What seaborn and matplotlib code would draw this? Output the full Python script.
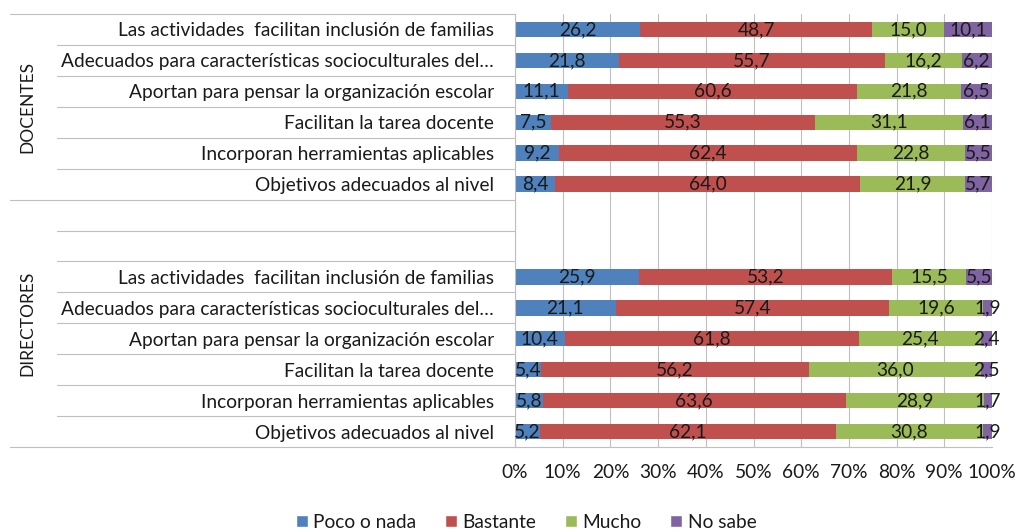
import seaborn as sns
import matplotlib.pyplot as plt
from matplotlib.patches import Patch
import numpy as np
import pandas as pd

# Data (rows listed top to bottom, blanks are the empty spacer rows)
items = [
    'Las actividades  facilitan inclusión de familias',
    'Adecuados para características socioculturales del…',
    'Aportan para pensar la organización escolar',
    'Facilitan la tarea docente',
    'Incorporan herramientas aplicables',
    'Objetivos adecuados al nivel',
]
row_labels = items + ['', ''] + items
groups = ['DOCENTES', 'DIRECTORES']
series = ['Poco o nada', 'Bastante', 'Mucho', 'No sabe']

poco = [26.2, 21.8, 11.1, 7.5, 9.2, 8.4, 0, 0, 25.9, 21.1, 10.4, 5.4, 5.8, 5.2]
bastante = [48.7, 55.7, 60.6, 55.3, 62.4, 64.0, 0, 0, 53.2, 57.4, 61.8, 56.2, 63.6, 62.1]
mucho = [15.0, 16.2, 21.8, 31.1, 22.8, 21.9, 0, 0, 15.5, 19.6, 25.4, 36.0, 28.9, 30.8]
no_sabe = [10.1, 6.2, 6.5, 6.1, 5.5, 5.7, 0, 0, 5.5, 1.9, 2.4, 2.5, 1.7, 1.9]

colors = ['#4F81BD', '#C0504D', '#9BBB59', '#8064A2']
TEXT = '#1a1a1a'
GRID = '#BFBFBF'
FS = 13.8

sns.set_style('white')
plt.rcParams['font.family'] = ['Lato', 'DejaVu Sans']

keys = [f'r{i}' for i in range(len(row_labels))]
vals = np.array([poco, bastante, mucho, no_sabe])
cum = vals.cumsum(axis=0)
df = pd.DataFrame({'key': keys})
for i, s in enumerate(series):
    df[s] = cum[i]

fig = plt.figure(figsize=(10.16, 5.32), dpi=100)
ax = fig.add_axes([515 / 1016, 1 - 447 / 532, 477 / 1016, 433 / 532])

# Stacked bars: draw cumulative totals from the widest down
for i in range(len(series) - 1, -1, -1):
    sns.barplot(data=df, x=series[i], y='key', order=keys, orient='h', color=colors[i],
                saturation=1, width=0.5, ax=ax, zorder=2, linewidth=0)

# Value labels centred in each segment
for r in range(len(keys)):
    for i in range(len(series)):
        v = vals[i, r]
        if v > 0:
            ax.text(cum[i, r] - v / 2, r, f'{v:.1f}'.replace('.', ','), ha='center', va='center',
                    fontsize=FS, color=TEXT, zorder=3)

ax.set_xlim(0, 100)
ax.set_ylim(13.5, -0.5)
ax.set_xticks(np.arange(0, 101, 10))
ax.set_xticklabels([f'{t}%' for t in range(0, 101, 10)])
ax.set_yticks(range(len(keys)))
ax.set_yticklabels(row_labels)
ax.set_xlabel('')
ax.set_ylabel('')
ax.tick_params(axis='y', length=0, pad=15, labelsize=FS, labelcolor=TEXT)
ax.tick_params(axis='x', length=4, width=0.8, color=GRID, pad=8, labelsize=FS, labelcolor=TEXT)
ax.xaxis.grid(True, color=GRID, linewidth=0.8, zorder=0)
ax.set_axisbelow(True)
for side in ('top', 'right'):
    ax.spines[side].set_visible(False)
for side in ('left', 'bottom'):
    ax.spines[side].set_color(GRID)
    ax.spines[side].set_linewidth(0.8)

# Category separators in the label area
trans = ax.get_yaxis_transform()
for b in np.arange(-0.5, 14, 1):
    x0 = -1.059 if b in (-0.5, 5.5, 13.5) else -0.960
    ax.plot([x0, 0], [b, b], transform=trans, color=GRID, linewidth=0.8, clip_on=False)

# Group labels
ax.text(-1.022, 2.5, groups[0], transform=trans, rotation=90, ha='center', va='center',
        fontsize=12.5, color=TEXT)
ax.text(-1.022, 9.5, groups[1], transform=trans, rotation=90, ha='center', va='center',
        fontsize=12.5, color=TEXT)

handles = [Patch(facecolor=c, label=s) for c, s in zip(colors, series)]
fig.legend(handles=handles, loc='lower center', bbox_to_anchor=(0.518, -0.03), ncol=4, frameon=False,
           fontsize=FS, handlelength=0.6, handleheight=0.6, handletextpad=0.3, columnspacing=1.5,
           labelcolor=TEXT)

plt.savefig('out.png', dpi=100)
